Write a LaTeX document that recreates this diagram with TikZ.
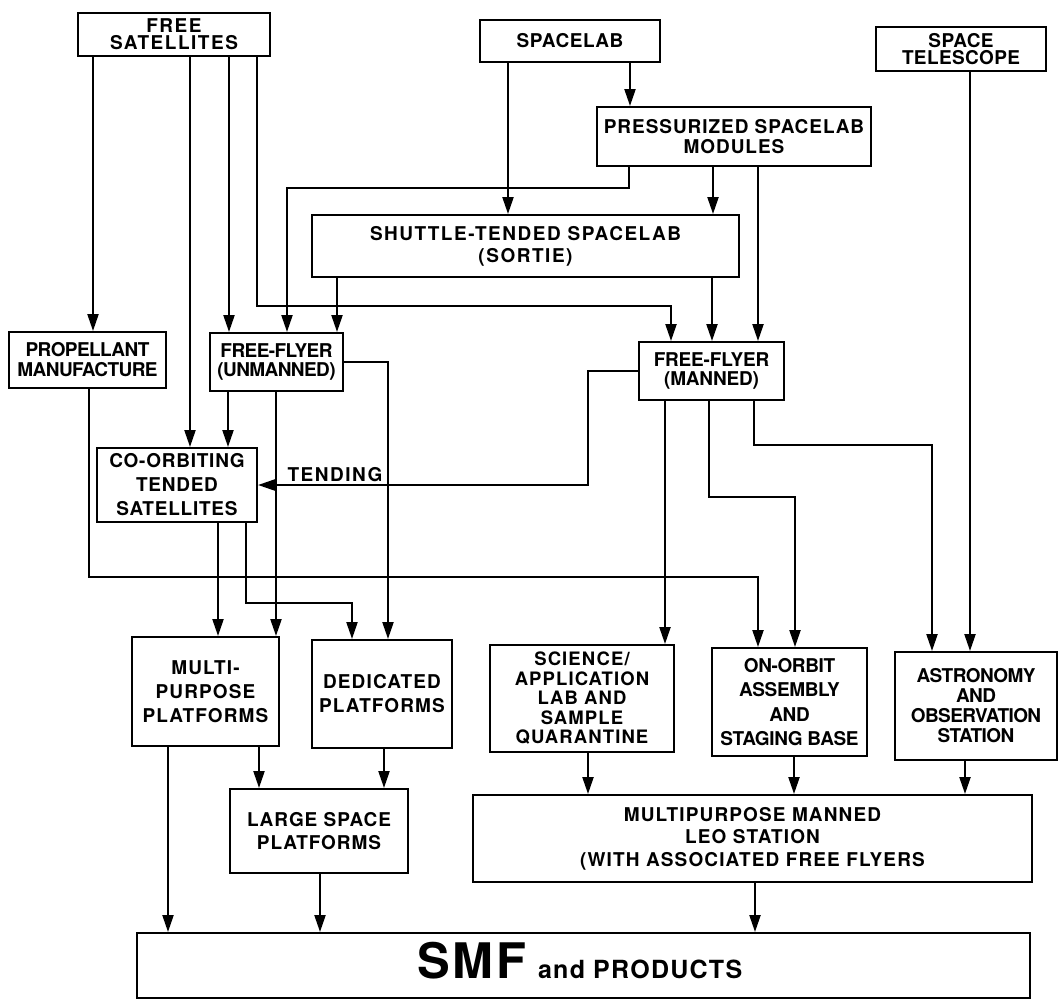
\documentclass[tikz,border=0pt]{standalone}
\usepackage{fontspec}
\setmainfont{TeX Gyre Heros}
\usetikzlibrary{arrows.meta}
\newcommand\myfs[3]{\bfseries\fontsize{#1}{#2}\selectfont\addfontfeature{LetterSpace=#3}}
\begin{document}
\begin{tikzpicture}[x=1pt,y=-1pt,
  box/.style={draw, line width=2pt, align=center, inner sep=0pt},
  arr/.style={line width=2.2pt, -{Triangle[length=17pt,width=11pt]}},
  lbl/.style={inner sep=0pt}]
\useasboundingbox (0,0) rectangle (1059,1005);
% boxes
\node[box, minimum width=192, minimum height=43, font=\myfs{19}{17}{8}] (fs) at (174,34.5) {FREE\\SATELLITES};
\node[box, minimum width=180, minimum height=42, font=\myfs{19}{20}{3}] (sl) at (570,41) {SPACELAB};
\node[box, minimum width=170, minimum height=44, font=\myfs{19}{17}{2}] (st) at (961,49) {SPACE\\TELESCOPE};
\node[box, minimum width=274, minimum height=59, font=\myfs{19}{20}{5}] (psm) at (734,136.5) {PRESSURIZED SPACELAB\\MODULES};
\node[box, minimum width=427, minimum height=62, font=\myfs{19}{22}{8}] (sts) at (525.5,246) {SHUTTLE-TENDED SPACELAB\\(SORTIE)};
\node[box, minimum width=157, minimum height=56, font=\myfs{19}{20}{-3}] (pm) at (87.5,360) {PROPELLANT\\MANUFACTURE};
\node[box, minimum width=133, minimum height=58, font=\myfs{19}{19}{-3}] (ffu) at (276.5,362) {FREE-FLYER\\(UNMANNED)};
\node[box, minimum width=145, minimum height=58, font=\myfs{19}{19}{-1}] (ffm) at (711.5,371) {FREE-FLYER\\(MANNED)};
\node[box, minimum width=160, minimum height=74, font=\myfs{19}{24}{4}] (cots) at (177,485) {CO-ORBITING\\TENDED\\SATELLITES};
\node[box, minimum width=147, minimum height=109, font=\myfs{19}{24}{6}] (mpp) at (205.5,691.5) {MULTI-\\PURPOSE\\PLATFORMS};
\node[box, minimum width=140, minimum height=108, font=\myfs{19}{24}{6}] (dp) at (382,694) {DEDICATED\\PLATFORMS};
\node[box, minimum width=184, minimum height=107, font=\myfs{18.5}{19.5}{6}] (sci) at (582,698.5) {SCIENCE/\\APPLICATION\\LAB AND\\SAMPLE\\QUARANTINE};
\node[box, minimum width=155, minimum height=108, font=\myfs{19}{24.5}{-2}] (oob) at (789.5,702) {ON-ORBIT\\ASSEMBLY\\AND\\STAGING BASE};
\node[box, minimum width=162, minimum height=108, font=\myfs{19}{20}{-3}] (aos) at (976,706) {ASTRONOMY\\AND\\OBSERVATION\\STATION};
\node[box, minimum width=178, minimum height=84, font=\myfs{19}{23}{5}] (lsp) at (319,831) {LARGE SPACE\\PLATFORMS};
\node[box, minimum width=559, minimum height=87, font=\myfs{19}{22.5}{6}] (leo) at (752.5,838.5) {MULTIPURPOSE MANNED\\LEO STATION\\(WITH ASSOCIATED FREE FLYERS};
\node[box, minimum width=893, minimum height=65] (smf) at (583.5,965.5) {};
\node[lbl, anchor=base] (smft) at (580,978) {{\myfs{49}{49}{5}SMF}\hspace{12pt}{\myfs{25}{25}{5}and PRODUCTS}};
% connectors from FREE SATELLITES
\draw[arr] (93,0 |- fs.south) -- (93,0 |- pm.north);
\draw[arr] (190,0 |- fs.south) -- (190,0 |- cots.north);
\draw[arr] (229,0 |- fs.south) -- (229,0 |- ffu.north);
\draw[arr] (257,0 |- fs.south) -- (257,306) -- (671,306) -- (671,0 |- ffm.north);
% SPACELAB
\draw[arr] (508,0 |- sl.south) -- (508,0 |- sts.north);
\draw[arr] (630,0 |- sl.south) -- (630,0 |- psm.north);
% PRESSURIZED
\draw[arr] (629,0 |- psm.south) -- (629,188) -- (287,188) -- (287,0 |- ffu.north);
\draw[arr] (713,0 |- psm.south) -- (713,0 |- sts.north);
\draw[arr] (758,0 |- psm.south) -- (758,0 |- ffm.north);
% SHUTTLE-TENDED
\draw[arr] (337,0 |- sts.south) -- (337,0 |- ffu.north);
\draw[arr] (712,0 |- sts.south) -- (712,0 |- ffm.north);
% SPACE TELESCOPE
\draw[arr] (970,0 |- st.south) -- (970,0 |- aos.north);
% PROPELLANT
\draw[arr] (89,0 |- pm.south) -- (89,577) -- (758,577) -- (758,0 |- oob.north);
% FREE-FLYER (UNMANNED)
\draw[arr] (228,0 |- ffu.south) -- (228,0 |- cots.north);
\draw[arr] (276,0 |- ffu.south) -- (276,0 |- mpp.north);
\draw[arr] (ffu.east) -- (388,0 |- ffu.east) -- (388,0 |- dp.north);
% CO-ORBITING
\draw[arr] (218,0 |- cots.south) -- (218,0 |- mpp.north);
\draw[arr] (246,0 |- cots.south) -- (246,603) -- (352,603) -- (352,0 |- dp.north);
% FREE-FLYER (MANNED)
\draw[arr] (ffm.west) -- (588,0 |- ffm.west) -- (588,0 |- cots.east) -- (cots.east);
\node[lbl, font=\myfs{19}{19}{8}] (tend) at (335,475) {TENDING};
\draw[arr] (665,0 |- ffm.south) -- (665,0 |- sci.north);
\draw[arr] (709,0 |- ffm.south) -- (709,497) -- (795,497) -- (795,0 |- oob.north);
\draw[arr] (754,0 |- ffm.south) -- (754,445) -- (932,445) -- (932,0 |- aos.north);
% lower tier
\draw[arr] (168,0 |- mpp.south) -- (168,0 |- smf.north);
\draw[arr] (259,0 |- mpp.south) -- (259,0 |- lsp.north);
\draw[arr] (384,0 |- dp.south) -- (384,0 |- lsp.north);
\draw[arr] (320,0 |- lsp.south) -- (320,0 |- smf.north);
\draw[arr] (588,0 |- sci.south) -- (588,0 |- leo.north);
\draw[arr] (794,0 |- oob.south) -- (794,0 |- leo.north);
\draw[arr] (965,0 |- aos.south) -- (965,0 |- leo.north);
\draw[arr] (755,0 |- leo.south) -- (755,0 |- smf.north);
\end{tikzpicture}
\end{document}
